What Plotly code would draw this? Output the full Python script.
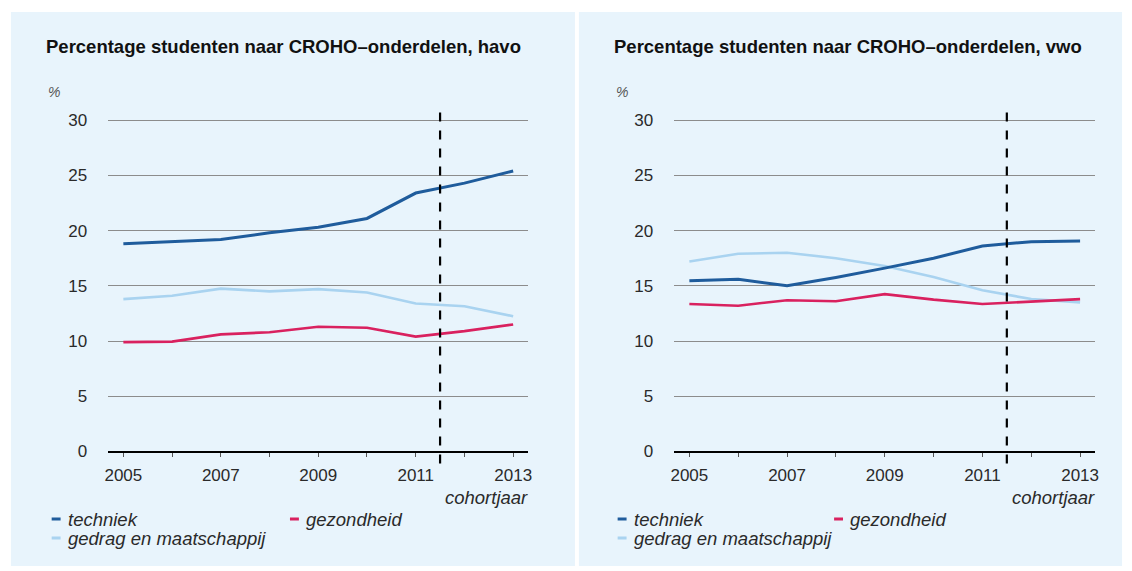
import plotly.graph_objects as go

# data
years = [2005, 2006, 2007, 2008, 2009, 2010, 2011, 2012, 2013]
year_labels = ["2005", "", "2007", "", "2009", "", "2011", "", "2013"]
y_ticks = [0, 5, 10, 15, 20, 25, 30]

havo_techniek = [18.8, 19.0, 19.2, 19.8, 20.3, 21.1, 23.4, 24.3, 25.4]
havo_gezondheid = [9.9, 9.95, 10.6, 10.8, 11.3, 11.2, 10.4, 10.9, 11.5]
havo_gedrag = [13.8, 14.1, 14.75, 14.5, 14.7, 14.4, 13.4, 13.15, 12.25]

vwo_techniek = [15.45, 15.6, 15.0, 15.75, 16.6, 17.5, 18.6, 19.0, 19.05]
vwo_gezondheid = [13.35, 13.2, 13.7, 13.6, 14.25, 13.75, 13.35, 13.55, 13.8]
vwo_gedrag = [17.2, 17.9, 18.0, 17.5, 16.8, 15.8, 14.6, 13.8, 13.5]

split_year = 2011.5  # dashed line between observed and prognosis

series_names = ["techniek", "gezondheid", "gedrag en maatschappij"]
colors = {"techniek": "#1f5c9c", "gezondheid": "#d9215f", "gedrag en maatschappij": "#a9d3f0"}
widths = {"techniek": 3, "gezondheid": 2.6, "gedrag en maatschappij": 2.6}

titles = ["Percentage studenten naar CROHO\u2013onderdelen, havo",
          "Percentage studenten naar CROHO\u2013onderdelen, vwo"]

W, H = 1132, 571
DIV_H = 581  # the page comes out a little squashed vertically, so make the div taller
FONT = "Liberation Sans"
BG = "#e8f4fc"
TXT = "#2a2a2a"


def px(x):
    return max(0, x / W)


def py(y):
    return max(0, min(1, 1 - y / H))


fig = go.Figure()

panels = [
    {"data": [havo_techniek, havo_gezondheid, havo_gedrag], "xa": "x", "ya": "y",
     "dom": [105, 528], "left": 7, "right": 575, "title_x": 40, "leg_x": 48, "leg_x2": 288},
    {"data": [vwo_techniek, vwo_gezondheid, vwo_gedrag], "xa": "x2", "ya": "y2",
     "dom": [675, 1099], "left": 579, "right": 1126, "title_x": 612, "leg_x": 618, "leg_x2": 836},
]

# draw gedrag first, then gezondheid, then techniek on top
draw_order = [2, 1, 0]

for k, p in enumerate(panels):
    for i in draw_order:
        name = series_names[i]
        fig.add_trace(go.Scatter(
            x=years, y=p["data"][i], mode="lines", name=name,
            line=dict(color=colors[name], width=widths[name]),
            xaxis=p["xa"], yaxis=p["ya"], showlegend=False, hoverinfo="skip",
        ))

    # panel background
    fig.add_shape(type="rect", xref="paper", yref="paper", layer="below",
                  x0=px(p["left"]), x1=px(p["right"]), y0=py(566), y1=py(12),
                  fillcolor=BG, line_width=0)

    # dashed split line
    fig.add_shape(type="line", xref=p["xa"], yref=p["ya"] + " domain",
                  x0=split_year, x1=split_year, y0=-0.035, y1=1,
                  line=dict(color="black", width=2.2, dash="dash"))

    # title
    fig.add_annotation(xref="paper", yref="paper", x=px(p["title_x"]), y=py(46),
                       xanchor="left", yanchor="middle", showarrow=False,
                       text="<b>" + titles[k] + "</b>",
                       font=dict(family=FONT, size=18.5, color="#111"))
    # percent sign
    fig.add_annotation(xref="paper", yref="paper", x=px(p["title_x"] + 2), y=py(92),
                       xanchor="left", yanchor="middle", showarrow=False,
                       text="<i>%</i>", font=dict(family=FONT, size=14, color="#555"))
    # x axis title
    fig.add_annotation(xref="paper", yref="paper", x=px(p["dom"][1] + 2), y=py(497),
                       xanchor="right", yanchor="middle", showarrow=False,
                       text="<i>cohortjaar</i>", font=dict(family=FONT, size=18.5, color=TXT))

    # legend (manual)
    leg_pos = [(p["leg_x"], 519), (p["leg_x2"], 519), (p["leg_x"], 538)]
    for name, (lx, ly) in zip(series_names, leg_pos):
        fig.add_shape(type="line", xref="paper", yref="paper",
                      x0=px(lx), x1=px(lx + 9), y0=py(ly), y1=py(ly),
                      line=dict(color=colors[name], width=3))
        fig.add_annotation(xref="paper", yref="paper", x=px(lx + 14), y=py(ly),
                           xanchor="left", yanchor="middle", showarrow=False,
                           text="<i>" + name + "</i>",
                           font=dict(family=FONT, size=18.5, color=TXT))

y_dom = [py(451.5), py(108)]
x_range = [2004.69, 2013.31]
y_range = [0, 31.1]

xaxis_style = dict(range=x_range, tickvals=years, ticktext=year_labels,
                   ticks="outside", ticklen=4, tickcolor="#555", showgrid=False,
                   showline=False, zeroline=False, fixedrange=True,
                   tickfont=dict(family=FONT, size=17, color=TXT), ticklabelstandoff=4)
yaxis_style = dict(range=y_range, domain=y_dom, tickvals=y_ticks,
                   showgrid=True, gridcolor="#8c8c8c", gridwidth=1,
                   zeroline=True, zerolinecolor="black", zerolinewidth=2,
                   showline=False, ticks="", fixedrange=True,
                   tickfont=dict(family=FONT, size=17, color=TXT), ticklabelstandoff=20)

# no fixed width/height in the layout: the figure fills its div, which is
# pinned to the top-left of the window so the page margin does not shift it
fig.update_layout(
    autosize=True,
    margin=dict(l=0, r=0, t=0, b=0),
    paper_bgcolor="white", plot_bgcolor="rgba(0,0,0,0)",
    showlegend=False,
    xaxis=dict(domain=[px(105), px(528)], anchor="y", **xaxis_style),
    yaxis=dict(anchor="x", **yaxis_style),
    xaxis2=dict(domain=[px(675), px(1099)], anchor="y2", **xaxis_style),
    yaxis2=dict(anchor="x2", **yaxis_style),
)

fig.write_html("out.html", config={"displayModeBar": False},
               default_width=f"{W}px",
               default_height=f"{DIV_H}px; position:fixed; top:0; left:0")
